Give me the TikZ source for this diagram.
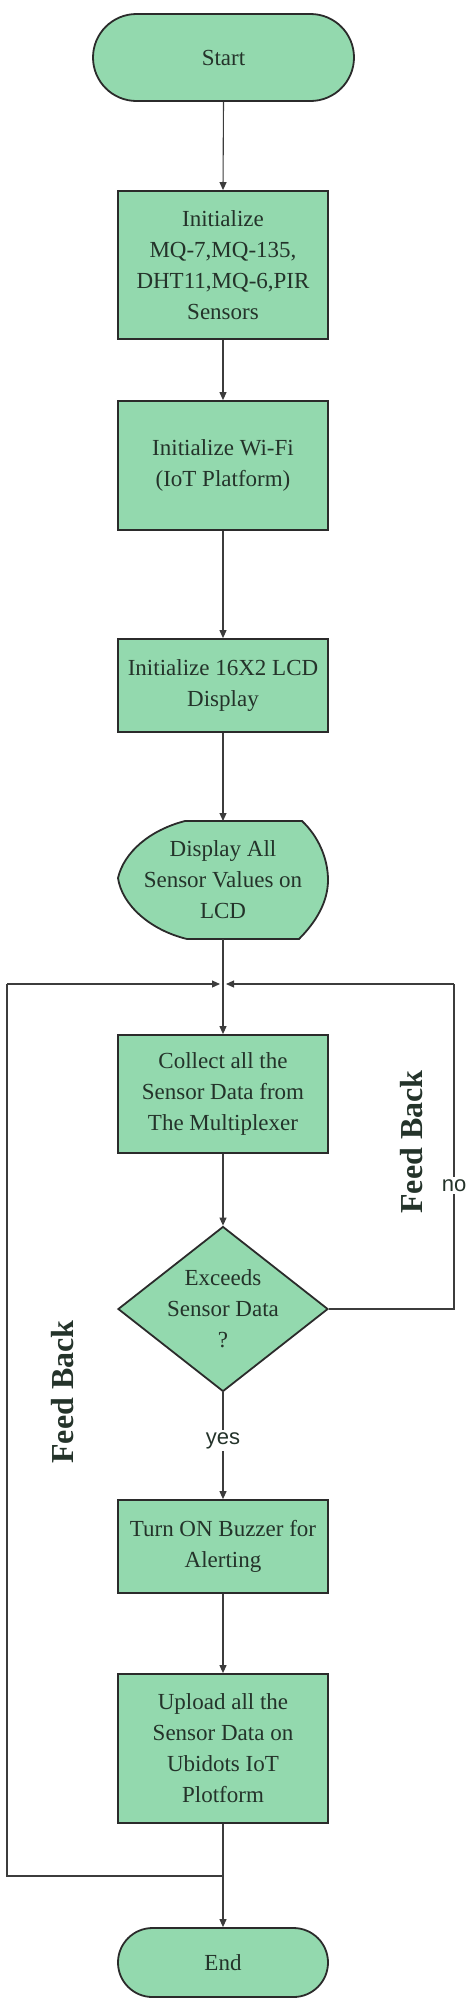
\documentclass[tikz,border=0pt]{standalone}
\usepackage{fontspec}
\setmainfont{Liberation Serif}
\newfontfamily\sansf{Liberation Sans}
\usetikzlibrary{arrows.meta,shapes.misc,shapes.geometric}
\definecolor{boxfill}{HTML}{93D9AE}
\definecolor{boxline}{HTML}{2B2B2B}
\definecolor{conn}{HTML}{3C3C3C}
\definecolor{txt}{HTML}{24332A}
\tikzset{
  every node/.style={text=txt},
  procbox/.style={rectangle, draw=boxline, line width=1.8pt, fill=boxfill, minimum width=210pt, align=center, inner sep=0pt, font=\fontsize{23}{31}\selectfont},
  termbox/.style={rounded rectangle, draw=boxline, line width=1.8pt, fill=boxfill, align=center, inner sep=0pt, font=\fontsize{23}{31}\selectfont},
  decbox/.style={diamond, draw=boxline, line width=1.8pt, fill=boxfill, inner sep=0pt, minimum width=210pt, minimum height=165pt},
  plaintext/.style={align=center, inner sep=0pt, font=\fontsize{23}{31}\selectfont},
  flow/.style={draw=conn, line width=1.1pt, -{Triangle[length=8pt,width=7pt]}},
  line/.style={draw=conn, line width=1.1pt},
  edgelabel/.style={fill=white, inner sep=2pt, font=\sansf\fontsize{22}{26}\selectfont},
  fbtext/.style={rotate=90, inner sep=0pt, font=\bfseries\fontsize{32}{36}\selectfont}
}
\begin{document}
\begin{tikzpicture}[x=1pt,y=-1pt]
\useasboundingbox (0,0) rectangle (472,2006);
% nodes
\node[termbox, minimum width=261pt, minimum height=87pt] (start) at (223.5,57.5) {Start};
\node[procbox, minimum height=148pt] (b1) at (223,265) {Initialize\\MQ-7,MQ-135,\\DHT11,MQ-6,PIR\\Sensors};
\node[procbox, minimum height=129pt] (b2) at (223,465.5) {Initialize Wi-Fi\\(IoT Platform)};
\node[procbox, minimum height=93pt] (b3) at (223,685.5) {Initialize 16X2 LCD\\Display};
% display shape
\path[draw=boxline, line width=1.8pt, fill=boxfill]
  (185,821) -- (302,821)
  .. controls (318,836) and (328,858) .. (328,880)
  .. controls (328,902) and (316,922) .. (299,939)
  -- (187,939)
  .. controls (150,930) and (122,905) .. (118,878)
  .. controls (124,852) and (150,830) .. (185,821) -- cycle;
\node[plaintext, minimum width=210pt, minimum height=118pt] (disp) at (223,880) {Display All\\Sensor Values on\\LCD};
\node[procbox, minimum height=118pt] (b4) at (223,1094) {Collect all the\\Sensor Data from\\The Multiplexer};
\node[decbox] (dec) at (223,1309) {};
\node[plaintext] (dectext) at (dec.center) {Exceeds\\Sensor Data\\?};
\node[procbox, minimum height=93pt] (b5) at (223,1546.5) {Turn ON Buzzer for\\Alerting};
\node[procbox, minimum height=149pt] (b6) at (223,1748.5) {Upload all the\\Sensor Data on\\Ubidots IoT\\Plotform};
\node[termbox, minimum width=210pt, minimum height=69pt] (end) at (223,1962.5) {End};
% coordinates
\coordinate (j) at (223,984);
\coordinate (jl) at (220,984);
\coordinate (jr) at (226,984);
\coordinate (rt) at (454,1309);
\coordinate (rb) at (454,984);
\coordinate (br) at (223,1876);
\coordinate (lb) at (7,1876);
\coordinate (lt) at (7,984);
% connectors
\draw[flow] (start.south) -- (b1.north);
\draw[flow] (b1.south) -- (b2.north);
\draw[flow] (b2.south) -- (b3.north);
\draw[flow] (b3.south) -- (223,821);
\draw[flow] (223,939) -- (b4.north);
\draw[flow] (b4.south) -- (dec.north);
\draw[flow] (dec.south) -- node[edgelabel, pos=0.45] (yes) {yes} (b5.north);
\draw[flow] (b5.south) -- (b6.north);
\draw[flow] (b6.south) -- (end.north);
\draw[line] (dec.east) -- (rt) -- node[edgelabel, pos=0.38] (no) {no} (rb);
\draw[flow] (rb) -- (jr);
\draw[line] (br) -- (lb) -- (lt);
\draw[flow] (lt) -- (jl);
% feedback labels
\node[fbtext] (fbl) at (63,1392) {Feed Back};
\node[fbtext] (fbr) at (412,1142) {Feed Back};
\end{tikzpicture}
\end{document}
